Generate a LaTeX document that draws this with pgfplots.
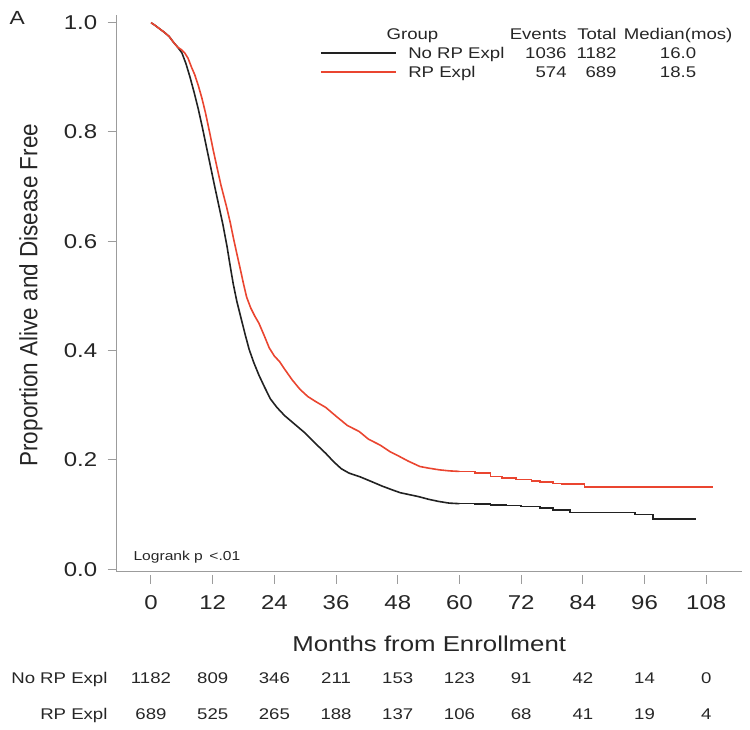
\documentclass[border=0pt]{standalone}
\usepackage{pgfplots}
\pgfplotsset{compat=1.18}
\usepackage{pgfplotstable}
\usepackage{fontspec}
\setmainfont{Liberation Sans}[FakeStretch=1.2]
\newfontfamily\ylabfont{Liberation Sans}[FakeStretch=0.9]
\definecolor{kmred}{HTML}{EA4530}
\definecolor{kmblack}{HTML}{222222}
\definecolor{axgray}{HTML}{9C9C9C}
\definecolor{txt}{HTML}{262626}

\pgfplotstableread{
m s
0 1.000
0.8 0.995
1.5 0.990
2.5 0.983
3.5 0.975
4.3 0.965
5.2 0.955
6.0 0.945
6.8 0.925
7.6 0.900
8.4 0.872
9.2 0.842
10.0 0.808
10.8 0.772
11.6 0.736
12.4 0.700
13.2 0.665
14.0 0.630
14.8 0.590
15.4 0.555
16.0 0.522
16.7 0.490
17.5 0.460
18.3 0.430
19.1 0.402
20.0 0.378
21.0 0.355
22.0 0.335
23.2 0.312
24.5 0.296
26.0 0.281
28.0 0.265
30.0 0.249
32.0 0.230
34.0 0.212
35.5 0.197
37.0 0.184
38.5 0.176
40.7 0.169
43.0 0.160
45.0 0.152
47.0 0.145
48.5 0.140
50.0 0.137
52.0 0.133
54.0 0.128
56.0 0.124
58.0 0.121
60.0 0.120
}\blackearly

\pgfplotstableread{
m s
60 0.120
63 0.1195
66 0.118
69 0.1165
72 0.1146
75.7 0.1116
78.2 0.108
81.5 0.104
94.2 0.100
97.6 0.0915
106 0.0915
}\blacktail

\pgfplotstableread{
m s
0 1.000
0.8 0.995
1.5 0.990
2.5 0.983
3.5 0.975
4.3 0.965
5.2 0.955
6.0 0.950
6.6 0.944
7.2 0.935
7.9 0.918
8.5 0.905
9.2 0.885
9.9 0.862
10.6 0.835
11.5 0.795
12.1 0.767
12.8 0.737
13.6 0.703
14.7 0.663
15.4 0.635
16.1 0.603
16.8 0.573
17.4 0.548
18.0 0.522
18.6 0.498
19.4 0.478
20.2 0.463
21.0 0.450
22.0 0.428
23.0 0.405
24.0 0.390
25.0 0.380
26.0 0.366
27.5 0.346
29.0 0.329
30.5 0.316
32.0 0.307
34.0 0.296
36.0 0.280
38.2 0.263
40.5 0.252
42.3 0.238
44.6 0.227
46.5 0.215
48.0 0.208
50.0 0.198
52.3 0.188
54.0 0.185
56.0 0.182
58.0 0.180
60.0 0.179
}\redearly

\pgfplotstableread{
m s
60 0.179
63 0.176
66 0.170
68.3 0.1665
71 0.164
74 0.161
75.7 0.160
78.2 0.157
79.9 0.1555
84.3 0.151
109.4 0.151
}\redtail

\begin{document}
\begin{tikzpicture}[x=1pt,y=1pt]
\path[use as bounding box] (0,0) rectangle (750,730);
\begin{axis}[
  at={(116.7pt,158pt)}, anchor=south west,
  width=625pt, height=557pt, scale only axis,
  xmin=-6.67, xmax=114.9, ymin=-0.005, ymax=1.014,
  axis lines*=left,
  axis line style={-, axgray, line width=1pt},
  xtick={0,12,24,36,48,60,72,84,96,108},
  ytick={0,0.2,0.4,0.6,0.8,1},
  tick align=outside, major tick length=9pt,
  tick style={axgray, line width=1pt},
  xtick style={yshift=-3pt},
  /pgf/number format/assume math mode=true,
  yticklabel style={/pgf/number format/.cd, fixed, fixed zerofill, precision=1, /tikz/.cd,
     font=\fontsize{20}{22}\selectfont, text=txt, xshift=-7pt},
  xticklabel style={font=\fontsize{20}{22}\selectfont, text=txt, yshift=-11pt},
  clip=false,
  legend cell align=left,
  legend image code/.code={\draw[#1] (0pt,2pt) -- (75pt,2pt);},
  legend style={at={(axis description cs:0.3253,0.9767)}, anchor=north west,
     draw=none, fill=none, inner sep=0pt, outer sep=0pt,
     font=\fontsize{15.5}{18}\selectfont, text=txt, row sep=3pt,
     nodes={inner sep=0pt, text height=12pt, text depth=4pt},
     /tikz/every odd column/.append style={column sep=11.7pt}},
]
\addplot[kmblack, line width=1.6pt, forget plot] table[x=m,y=s] {\blackearly};
\addplot[kmblack, line width=1.6pt, const plot, forget plot] table[x=m,y=s] {\blacktail};
\addplot[kmred, line width=1.6pt, forget plot] table[x=m,y=s] {\redearly};
\addplot[kmred, line width=1.6pt, const plot, forget plot] table[x=m,y=s] {\redtail};

\addlegendimage{empty legend}
\addlegendentry{\hspace*{-21.7pt}\makebox[180pt][l]{Group\hfill Events}\makebox[50pt][r]{Total}\makebox[123pt][c]{Median(mos)}}
\addlegendimage{kmblack, line width=1.6pt}
\addlegendentry{\makebox[158.3pt][l]{No RP Expl\hfill 1036}\makebox[50pt][r]{1182}\makebox[123pt][c]{16.0}}
\addlegendimage{kmred, line width=1.6pt}
\addlegendentry{\makebox[158.3pt][l]{RP Expl\hfill 574}\makebox[50pt][r]{689}\makebox[123pt][c]{18.5}}

% panel letter, axis labels, annotation
\node[anchor=base west, font=\fontsize{19}{20}\selectfont, text=txt] at (axis description cs:-0.1771,0.9838) {A};
\node[anchor=base, font=\fontsize{21.5}{24}\selectfont, text=txt] at (axis description cs:0.5,-0.1431) {Months from Enrollment};
\node[rotate=90, anchor=center, font=\ylabfont\fontsize{25}{28}\selectfont, text=txt] at (axis description cs:-0.1371,0.497) {Proportion Alive and Disease Free};
\node[anchor=base west, font=\fontsize{13}{15}\selectfont, text=txt] at (axis description cs:0.0213,0.0215) {Logrank p \,<.01};

% numbers at risk
\node[anchor=base east, font=\fontsize{15.5}{18}\selectfont, text=txt] at (axis cs:-7.78,-0.2083) {No RP Expl};
\node[anchor=base east, font=\fontsize{15.5}{18}\selectfont, text=txt] at (axis cs:-7.78,-0.2757) {RP Expl};
\begin{scope}[every node/.style={anchor=base, font=\fontsize{15.5}{18}\selectfont, text=txt}]
\node at (axis cs:0,-0.2083) {1182};
\node at (axis cs:12,-0.2083) {809};
\node at (axis cs:24,-0.2083) {346};
\node at (axis cs:36,-0.2083) {211};
\node at (axis cs:48,-0.2083) {153};
\node at (axis cs:60,-0.2083) {123};
\node at (axis cs:72,-0.2083) {91};
\node at (axis cs:84,-0.2083) {42};
\node at (axis cs:96,-0.2083) {14};
\node at (axis cs:108,-0.2083) {0};
\node at (axis cs:0,-0.2757) {689};
\node at (axis cs:12,-0.2757) {525};
\node at (axis cs:24,-0.2757) {265};
\node at (axis cs:36,-0.2757) {188};
\node at (axis cs:48,-0.2757) {137};
\node at (axis cs:60,-0.2757) {106};
\node at (axis cs:72,-0.2757) {68};
\node at (axis cs:84,-0.2757) {41};
\node at (axis cs:96,-0.2757) {19};
\node at (axis cs:108,-0.2757) {4};
\end{scope}
\end{axis}
\end{tikzpicture}
\end{document}
